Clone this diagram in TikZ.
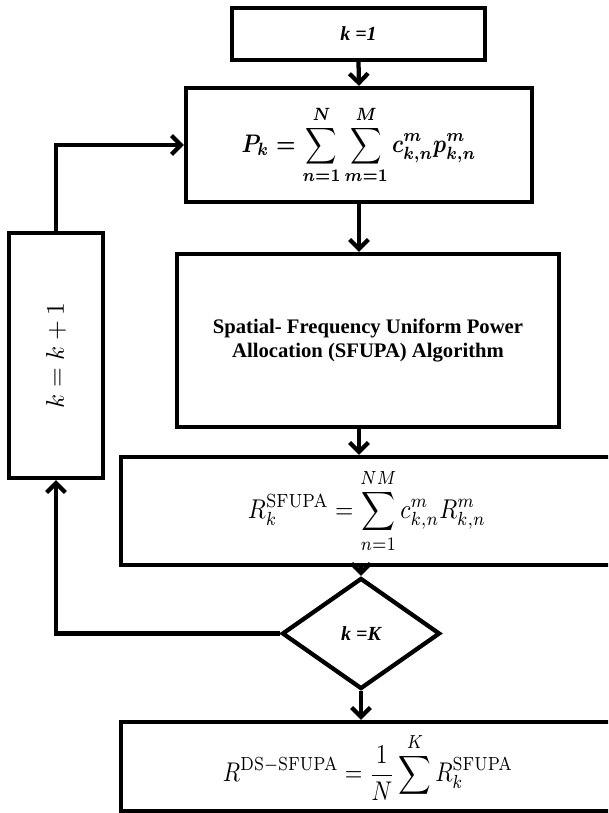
\documentclass[tikz,border=0pt]{standalone}
\usepackage{amsmath}
\usepackage{graphicx}
\usepackage[no-math]{fontspec}
\setmainfont{Liberation Serif}
\usetikzlibrary{arrows.meta,shapes.geometric}
\begin{document}
\begin{tikzpicture}[x=0.75pt,y=-0.75pt,
  box/.style={draw, rectangle, inner sep=0pt, line width=3.2pt},
  arr/.style={-{Straight Barb[length=7pt,width=14pt]}, line width=3.2pt},
  lbl/.style={font=\fontsize{15}{18}\selectfont\bfseries\itshape}]
\useasboundingbox (0,0) rectangle (608,813);
\clip (0,0) rectangle (608,813);
\node[box, lbl, minimum width=189.75pt, minimum height=39pt] (k1) at (358.5,34) {k =1};
\node[box, minimum width=259.5pt, minimum height=85.5pt] (Pk) at (359,145)
  {\resizebox*{176pt}{59pt}{\boldmath$\displaystyle P_k=\sum_{n=1}^{N}\sum_{m=1}^{M}c_{k,n}^{m}p_{k,n}^{m}$}};
\node[box, align=center, font=\fontsize{15.5}{18}\selectfont\bfseries, minimum width=286.5pt, minimum height=129.75pt] (SF) at (368,340.5)
  {Spatial- Frequency Uniform Power\\Allocation (SFUPA) Algorithm};
\node[box, minimum width=369pt, minimum height=81pt] (R) at (367,511)
  {\resizebox*{178.5pt}{63pt}{$\displaystyle R_k^{\mathrm{SFUPA}}=\sum_{n=1}^{NM}c_{k,n}^{m}R_{k,n}^{m}$}};
\node[draw, diamond, line width=3.2pt, inner sep=0pt, lbl, minimum width=118.5pt, minimum height=83.25pt] (d) at (361,633.5) {k =K};
\node[box, minimum width=370.5pt, minimum height=66.75pt] (B) at (368,766.5)
  {\resizebox*{217.5pt}{51pt}{$\displaystyle R^{\mathrm{DS-SFUPA}}=\frac{1}{N}\sum^{K}R_k^{\mathrm{SFUPA}}$}};
\node[box, minimum width=70.5pt, minimum height=183.75pt] (kk) at (56,355.5)
  {\rotatebox{90}{\resizebox{79.5pt}{!}{$k=k+1$}}};
\draw[arr] (k1.south) -- (Pk.north);
\draw[arr] (Pk.south) -- (Pk.south |- SF.north);
\draw[arr] (Pk.south |- SF.south) -- (Pk.south |- R.north);
\draw[arr] (d.north |- R.south) -- (d.north);
\draw[arr] (d.south) -- (d.south |- B.north);
\draw[arr] (d.west) -| (kk.south);
\draw[arr] (kk.north) |- (Pk.west);
\end{tikzpicture}
\end{document}
